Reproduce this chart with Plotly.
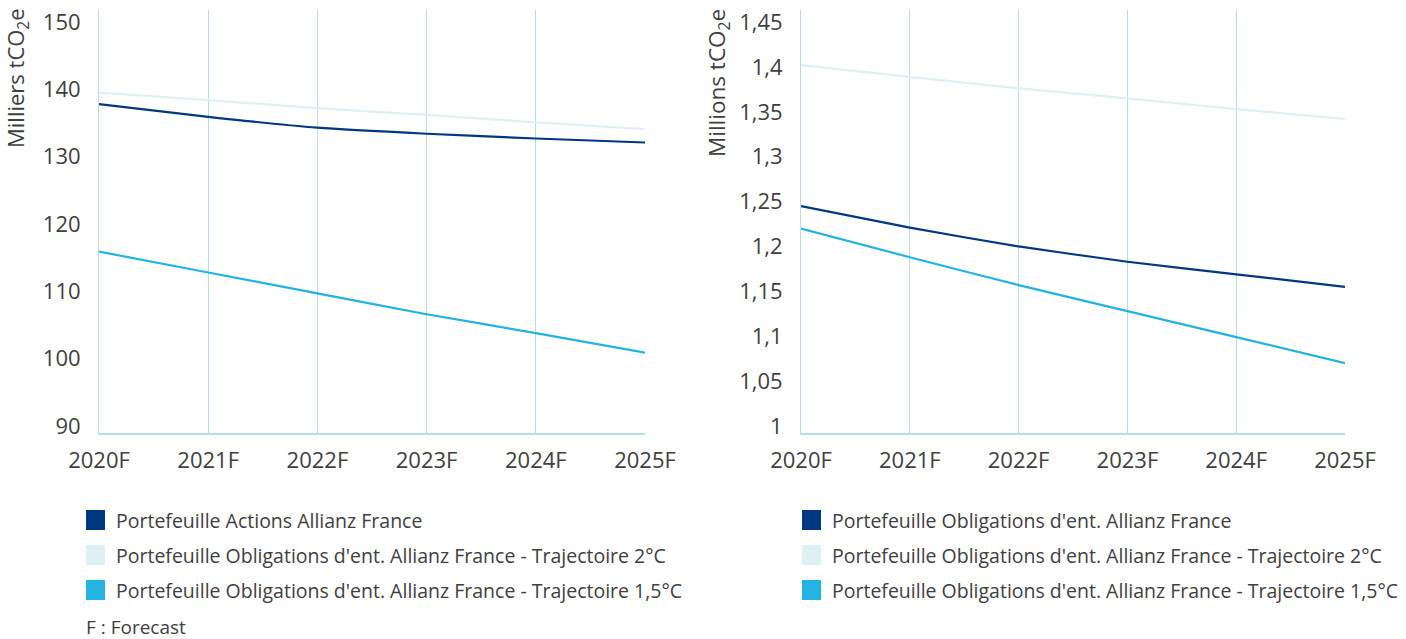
import plotly.graph_objects as go
from plotly.subplots import make_subplots

years = ["2020F", "2021F", "2022F", "2023F", "2024F", "2025F"]

# Left chart (Milliers tCO2e)
left_actions = [137.8, 135.9, 134.3, 133.4, 132.7, 132.1]
left_traj_2c = [139.5, 138.4, 137.2, 136.2, 135.1, 134.1]
left_traj_15c = [115.9, 112.8, 109.7, 106.6, 103.8, 100.9]

# Right chart (Millions tCO2e)
right_oblig = [1.245, 1.221, 1.200, 1.183, 1.169, 1.155]
right_traj_2c = [1.402, 1.389, 1.376, 1.365, 1.353, 1.342]
right_traj_15c = [1.220, 1.188, 1.157, 1.128, 1.099, 1.070]

left_ticks = [90, 100, 110, 120, 130, 140, 150]
left_ticktext = ["90", "100", "110", "120", "130", "140", "150"]
right_ticks = [1, 1.05, 1.1, 1.15, 1.2, 1.25, 1.3, 1.35, 1.4, 1.45]
right_ticktext = ["1", "1,05", "1,1", "1,15", "1,2", "1,25", "1,3", "1,35", "1,4", "1,45"]

legend_left = ["Portefeuille Actions Allianz France",
               "Portefeuille Obligations d'ent. Allianz France - Trajectoire 2°C",
               "Portefeuille Obligations d'ent. Allianz France - Trajectoire 1,5°C"]
legend_right = ["Portefeuille Obligations d'ent. Allianz France",
                "Portefeuille Obligations d'ent. Allianz France - Trajectoire 2°C",
                "Portefeuille Obligations d'ent. Allianz France - Trajectoire 1,5°C"]

DARK = "#003781"
LIGHT = "#dff0f4"
CYAN = "#22b3e2"
GRID = "#b9dcea"
TEXT = "#404040"
FONT = "Open Sans"

W, H = 1406, 639

fig = make_subplots(rows=1, cols=2)

def add_line(y, color, col):
    fig.add_trace(go.Scatter(x=years, y=y, mode="lines",
                             line=dict(color=color, width=2.2, shape="spline", smoothing=0.5),
                             showlegend=False, hoverinfo="skip"), row=1, col=col)

add_line(left_traj_2c, LIGHT, 1)
add_line(left_actions, DARK, 1)
add_line(left_traj_15c, CYAN, 1)
add_line(right_traj_2c, LIGHT, 2)
add_line(right_oblig, DARK, 2)
add_line(right_traj_15c, CYAN, 2)

ydom = [(H - 433) / H, (H - 10) / H]
fig.update_layout(
    width=W, height=H, margin=dict(l=0, r=0, t=0, b=0, autoexpand=False),
    paper_bgcolor="white", plot_bgcolor="white",
    font=dict(family=FONT, color=TEXT, size=20),
    xaxis=dict(domain=[99 / W, 645 / W]),
    xaxis2=dict(domain=[801 / W, 1345 / W]),
    yaxis=dict(domain=ydom, range=[88.96, 151.78], tickvals=left_ticks, ticktext=left_ticktext),
    yaxis2=dict(domain=ydom, range=[0.9922, 1.4634], tickvals=right_ticks, ticktext=right_ticktext),
)
fig.update_xaxes(type="category", range=[0, 5], showgrid=True, gridcolor=GRID, gridwidth=1,
                 showline=True, linecolor=GRID, linewidth=1.5, mirror=False, automargin=False,
                 ticks="outside", ticklen=7, tickcolor="rgba(0,0,0,0)",
                 tickfont=dict(size=22, color=TEXT, family=FONT),
                 zeroline=False, fixedrange=True)
fig.update_yaxes(showgrid=False, zeroline=False, showline=True, linecolor=GRID, linewidth=1,
                 automargin=False, ticks="outside", ticklen=13, tickcolor="rgba(0,0,0,0)",
                 tickfont=dict(size=22, color=TEXT, family=FONT))

# axis titles
fig.add_annotation(x=17 / W, y=1 - 78 / H, xref="paper", yref="paper", textangle=-90,
                   text="Milliers tCO<sub>2</sub>e", showarrow=False,
                   font=dict(size=22, color=TEXT, family=FONT), xanchor="center", yanchor="middle")
fig.add_annotation(x=718 / W, y=1 - 83 / H, xref="paper", yref="paper", textangle=-90,
                   text="Millions tCO<sub>2</sub>e", showarrow=False,
                   font=dict(size=22.5, color=TEXT, family=FONT), xanchor="center", yanchor="middle")

# custom legends
colors = [DARK, LIGHT, CYAN]
rows_y = [520, 555, 590]
for labels, sx, tx in [(legend_left, 86, 114), (legend_right, 802, 830)]:
    for lab, c, ry in zip(labels, colors, rows_y):
        fig.add_shape(type="rect", xref="paper", yref="paper",
                      x0=sx / W, x1=(sx + 19) / W, y0=1 - (ry + 10) / H, y1=1 - (ry - 10) / H,
                      fillcolor=c, line=dict(width=0))
        fig.add_annotation(x=tx / W, y=1 - ry / H, xref="paper", yref="paper", text=lab,
                           showarrow=False, xanchor="left", yanchor="middle",
                           font=dict(size=19.5, color=TEXT, family=FONT))
fig.add_annotation(x=84 / W, y=1 - 627 / H, xref="paper", yref="paper", text="F : Forecast",
                   showarrow=False, xanchor="left", yanchor="middle",
                   font=dict(size=19, color=TEXT, family=FONT))

fig.write_html("out.html")
